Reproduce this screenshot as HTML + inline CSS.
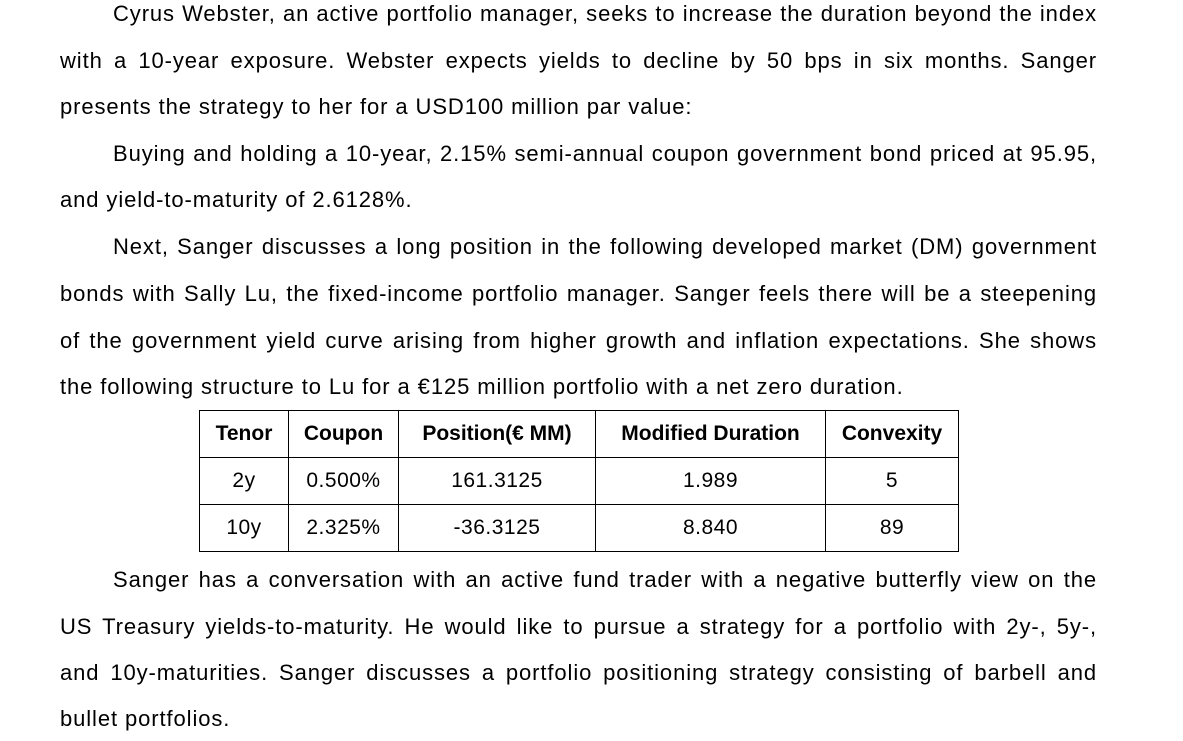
<!DOCTYPE html>
<html><head><meta charset="utf-8"><style>
body{margin:0;width:1183px;height:741px;background:#fff;overflow:hidden;position:relative;font-family:"Liberation Sans",sans-serif;color:#000;font-size:22px;letter-spacing:0.9px}
.l{position:absolute;left:60px;width:1037px;white-space:nowrap;line-height:24px}
.j{text-align:justify;text-align-last:justify;white-space:normal}
.i{left:113px;width:984px}
table{position:absolute;left:199px;top:410px;border-collapse:collapse;font-size:21px;letter-spacing:0.5px}
td,th{border:1.5px solid #000;text-align:center;padding:0;height:46px}
th{font-weight:bold;letter-spacing:0}
</style></head><body>
<div class="l i j" style="top:2px">Cyrus Webster, an active portfolio manager, seeks to increase the duration beyond the index</div>
<div class="l j" style="top:49px">with a 10-year exposure. Webster expects yields to decline by 50 bps in six months. Sanger</div>
<div class="l" style="top:95px">presents the strategy to her for a USD100 million par value:</div>
<div class="l i j" style="top:142px">Buying and holding a 10-year, 2.15% semi-annual coupon government bond priced at 95.95,</div>
<div class="l" style="top:188px">and yield-to-maturity of 2.6128%.</div>
<div class="l i j" style="top:235px">Next, Sanger discusses a long position in the following developed market (DM) government</div>
<div class="l j" style="top:282px">bonds with Sally Lu, the fixed-income portfolio manager. Sanger feels there will be a steepening</div>
<div class="l j" style="top:329px">of the government yield curve arising from higher growth and inflation expectations. She shows</div>
<div class="l" style="top:375px">the following structure to Lu for a €125 million portfolio with a net zero duration.</div>
<table>
<tr><th style="width:88px">Tenor</th><th style="width:109px">Coupon</th><th style="width:196px">Position(€ MM)</th><th style="width:229px">Modified Duration</th><th style="width:132px">Convexity</th></tr>
<tr><td>2y</td><td>0.500%</td><td>161.3125</td><td>1.989</td><td>5</td></tr>
<tr><td>10y</td><td>2.325%</td><td>-36.3125</td><td>8.840</td><td>89</td></tr>
</table>
<div class="l i j" style="top:568px">Sanger has a conversation with an active fund trader with a negative butterfly view on the</div>
<div class="l j" style="top:615px">US Treasury yields-to-maturity. He would like to pursue a strategy for a portfolio with 2y-, 5y-,</div>
<div class="l j" style="top:661px">and 10y-maturities. Sanger discusses a portfolio positioning strategy consisting of barbell and</div>
<div class="l" style="top:707px">bullet portfolios.</div>
</body></html>
